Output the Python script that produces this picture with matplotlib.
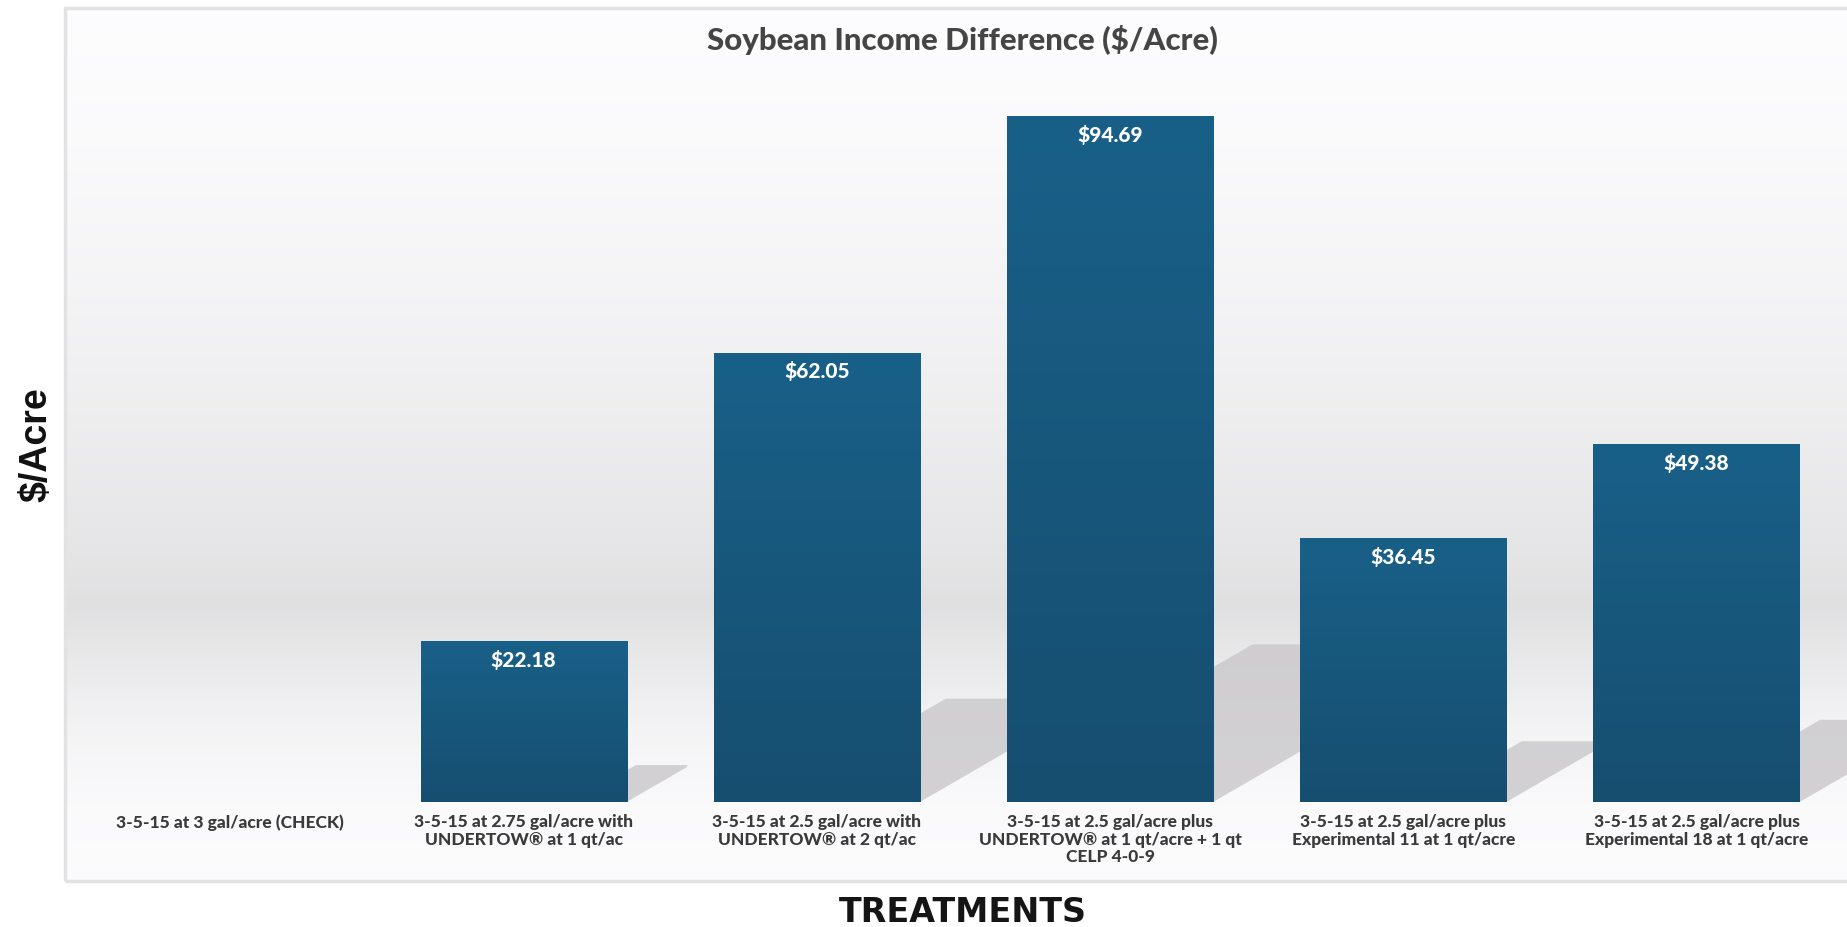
import matplotlib
matplotlib.use('Agg')
import matplotlib.pyplot as plt
import numpy as np
from matplotlib.patches import Polygon, Rectangle

# data
treatments = ['3-5-15 at 3 gal/acre (CHECK)',
              '3-5-15 at 2.75 gal/acre with\nUNDERTOW® at 1 qt/ac',
              '3-5-15 at 2.5 gal/acre with\nUNDERTOW® at 2 qt/ac',
              '3-5-15 at 2.5 gal/acre plus\nUNDERTOW® at 1 qt/acre + 1 qt\nCELP 4-0-9',
              '3-5-15 at 2.5 gal/acre plus\nExperimental 11 at 1 qt/acre',
              '3-5-15 at 2.5 gal/acre plus\nExperimental 18 at 1 qt/acre']
income_diff = [0, 22.18, 62.05, 94.69, 36.45, 49.38]
value_labels = ['', '$22.18', '$62.05', '$94.69', '$36.45', '$49.38']

W, H = 1847, 927
fig = plt.figure(figsize=(W / 100, H / 100), dpi=100)
fig.patch.set_facecolor('white')

# card background with soft grey band
card_l, card_t, card_b = 65, 8, 881
bg = fig.add_axes([card_l / W, 1 - card_b / H, 1 - card_l / W, (card_b - card_t) / H])
ys = np.array([0, 140, 290, 440, 550, 597, 645, 715, 795, 873])
vals = np.array([253, 250, 244, 236, 229, 224, 232, 243, 250, 252])
yy = np.arange(0, card_b - card_t)
grad = np.interp(yy, ys, vals) / 255.0
img = np.stack([grad, grad, np.clip(grad * 1.006, 0, 1)], axis=-1)[:, None, :]
bg.imshow(img, aspect='auto', extent=[0, 1, 0, 1], interpolation='bilinear')
bg.set_xlim(0, 1)
bg.set_ylim(0, 1)
bg.axis('off')
bg.add_patch(Rectangle((0.0, 0.0), 1.2, 1.0, transform=bg.transAxes, fill=False,
                       edgecolor='#e2e2e2', linewidth=2.5, clip_on=False))

# main axes: bottom at the bar baseline
base_px = 802
ax = fig.add_axes([card_l / W, 1 - base_px / H, 1 - card_l / W, (base_px - card_t) / H])
ax.patch.set_alpha(0)
ax.set_xlim(-0.564, 5.513)
ax.set_ylim(0, (base_px - card_t) / 7.24)
for s in ax.spines.values():
    s.set_visible(False)
ax.set_yticks([])

x = np.arange(len(treatments))
bw = 0.703
bars = ax.bar(x, income_diff, width=bw, color='#175a80', zorder=3)

# pixel -> data units
ux = (ax.get_xlim()[1] - ax.get_xlim()[0]) / (W - card_l)
uy = (ax.get_ylim()[1] - ax.get_ylim()[0]) / (base_px - card_t)

# gradient fill + cast shadow for each bar
bar_grad = np.linspace(0, 1, 256)[:, None]
top_c = np.array([25, 96, 136]) / 255
bot_c = np.array([22, 78, 112]) / 255
bar_img = (top_c[None, None, :] * (1 - bar_grad[:, :, None]) + bot_c[None, None, :] * bar_grad[:, :, None])
for xi, v, b in zip(x, income_diff, bars):
    if v <= 0:
        continue
    b.set_facecolor('none')
    im = ax.imshow(bar_img, aspect='auto', extent=[xi - bw / 2, xi + bw / 2, 0, v],
                   zorder=3, interpolation='bilinear')
    im.set_clip_path(b)
    hs = 0.23 * v / uy
    k = 0.58
    L = 0.95 * hs / k
    a = 0.25 * hs
    R = xi + bw / 2
    pts = [(R, 0), (R + L * ux, k * L * uy), (R + L * ux, hs * uy),
           (R + a * ux, hs * uy), (R, (hs - k * a) * uy)]
    ax.add_patch(Polygon(pts, closed=True, facecolor='#c9c7ca', edgecolor='none',
                         alpha=0.8, zorder=2))
    ax.annotate(value_labels[xi], (xi, v), xytext=(0, -13.3), textcoords='offset points',
                ha='center', va='center', color='white', fontsize=15,
                fontfamily='Lato', fontweight='black', zorder=5)
ax.set_xlim(-0.564, 5.513)
ax.set_ylim(0, (base_px - card_t) / 7.24)

ax.set_xticks(x)
ax.set_xticklabels(treatments, fontsize=12.5, fontfamily='Lato', fontweight='black',
                   color='#3a3a3a', linespacing=1.1)
ax.tick_params(axis='x', length=0, pad=9)

fig.text(962 / W, 1 - 40 / H, 'Soybean Income Difference ($/Acre)', ha='center', va='center',
         fontsize=22.5, fontfamily='Lato', fontweight='black', color='#454545')
fig.text(36 / W, 1 - 445 / H, '$/Acre', rotation=90, ha='center', va='center',
         fontsize=27, fontfamily='Liberation Sans', fontweight='bold', color='#111111')
fig.text(963 / W, 1 - 913 / H, 'TREATMENTS', ha='center', va='center',
         fontsize=24, fontfamily='DejaVu Sans', fontweight='bold', color='#151515')

fig.savefig('out.png', dpi=100)
